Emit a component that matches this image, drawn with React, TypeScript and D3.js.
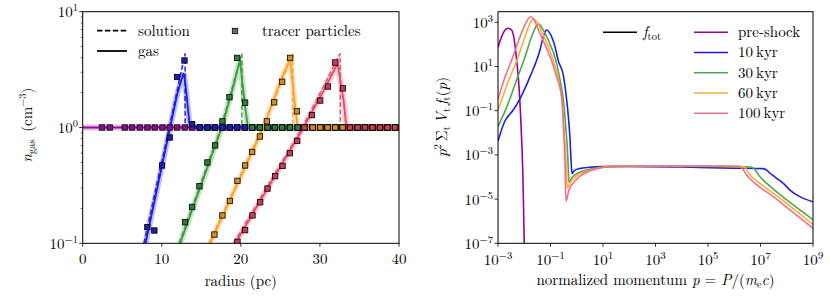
import { useEffect, useRef } from 'react';
import * as d3 from 'd3';

type Pt = [number, number];

// ---------- left panel: gas density vs radius ----------
const lineColors = ['#9c0a9c', '#1c1ce0', '#3c9c3c', '#ff9e22', '#e24a6a'];
const markerFills = ['#85108a', '#1e1eb4', '#2f7d3a', '#d48c26', '#c83e58'];

// dashed analytic solution, [radius pc, n_gas]
const solution10: Pt[] = [[7.75, 0.1], [10.95, 1], [12.95, 4.36], [12.95, 1], [40, 1]];
const solution30: Pt[] = [[12.2, 0.1], [17.5, 1], [20.13, 4.36], [20.13, 1], [40, 1]];
const solution60: Pt[] = [[16.0, 0.1], [22.75, 1], [26.58, 4.36], [26.58, 1], [40, 1]];
const solution100: Pt[] = [[19.1, 0.1], [27.8, 1], [32.57, 4.36], [32.57, 1], [40, 1]];

// solid gas profiles
const gasInit: Pt[] = [[0, 1], [40, 1]];
const gas10: Pt[] = [[7.95, 0.1], [11.05, 1], [12.0, 2.0], [12.5, 2.6], [12.75, 2.95], [12.95, 2.5], [13.16, 1.84], [13.5, 1.08], [13.75, 1], [40, 1]];
const gas30: Pt[] = [[12.32, 0.1], [17.59, 1], [19.0, 2.2], [19.6, 3.2], [19.9, 3.8], [20.15, 2.6], [20.54, 1.5], [20.9, 1], [40, 1]];
const gas60: Pt[] = [[16.1, 0.1], [22.86, 1], [25.0, 2.5], [26.24, 3.94], [26.5, 2.6], [26.87, 1.5], [27.2, 1], [40, 1]];
const gas100: Pt[] = [[19.3, 0.1], [27.92, 1], [30.5, 2.1], [32.23, 3.57], [32.6, 2.5], [32.99, 1.72], [33.35, 1], [40, 1]];

// tracer particles still sitting in the ambient medium (n = 1)
const ambientRadii = [2.44, 3.42, 5.32, 6.24, 7.22, 8.19, 9.11, 10.09, 11.01, 11.94, 12.91, 13.84, 14.81, 15.78, 16.71, 17.68, 18.61, 19.53, 20.51, 21.43, 22.41, 23.38, 24.3, 25.22, 26.2, 27.18, 28.1, 29.08, 30.04, 30.97, 31.94, 32.87, 33.8, 34.76, 35.7, 36.65, 37.6, 38.55, 39.5];
const ambientStart = [0, 14.5, 21, 27.8, 33.5];

// tracer particles inside the shell
const tracers10: Pt[] = [[8.18, 0.138], [9.06, 0.129], [10.04, 0.47], [11.01, 0.82], [11.94, 2.73], [12.87, 3.79], [13.84, 1.07]];
const tracers30: Pt[] = [[12.95, 0.152], [13.84, 0.206], [14.76, 0.311], [15.77, 0.499], [16.75, 0.7], [17.67, 1.13], [18.56, 1.83], [19.53, 3.99], [20.54, 1.64]];
const tracers60: Pt[] = [[16.66, 0.119], [17.67, 0.174], [18.61, 0.232], [19.57, 0.346], [20.54, 0.47], [21.43, 0.615], [22.41, 0.836], [23.29, 1.13], [24.22, 1.65], [25.23, 2.48], [26.24, 3.99], [27.09, 1.38]];
const tracers100: Pt[] = [[19.57, 0.103], [20.54, 0.13], [21.47, 0.174], [22.44, 0.226], [23.37, 0.297], [24.34, 0.38], [25.27, 0.466], [26.2, 0.6], [27.13, 0.766], [28.05, 1.0], [28.99, 1.28], [30.04, 1.71], [31.01, 2.26], [31.94, 3.64], [32.91, 2.18]];

const radiusTicks = [0, 10, 20, 30, 40];

// ---------- right panel: spectra, [log10 p, log10 p^2 sum V f] ----------
const spectrumLabels = ['pre-shock', '10\u2009kyr', '30\u2009kyr', '60\u2009kyr', '100\u2009kyr'];
const spectrumColors = ['#990099', '#2020e0', '#4ea64e', '#ffab38', '#f07088'];

const preShockCurve: Pt[] = [[-3, 1.87], [-2.86, 2.35], [-2.73, 2.65], [-2.61, 2.73], [-2.48, 2.65], [-2.38, 2.2], [-2.29, 1.29], [-2.2, 0.09], [-2.12, -1.72], [-2.05, -3.99], [-2.0, -7], [-1.97, -8]];
const tenKyrCurve: Pt[] = [[-3, -2.37], [-2.75, -1.5], [-2.42, -0.97], [-2.16, -0.45], [-1.78, 0.54], [-1.4, 1.75], [-1.25, 2.45], [-1.15, 2.65], [-1.0, 2.45], [-0.83, 1.9], [-0.7, 1.25], [-0.51, 0.6], [-0.42, -0.15], [-0.34, -1.0], [-0.26, -2.2], [-0.21, -3.4], [-0.18, -3.85], [-0.1, -3.72], [0.1, -3.62], [0.5, -3.56], [1, -3.53], [2, -3.52], [4, -3.55], [6, -3.6], [7.1, -3.62], [7.25, -3.7], [7.36, -3.83], [7.5, -3.95], [7.62, -4.06], [7.87, -4.29], [8.12, -4.59], [8.5, -4.89], [9, -5.12]];
const thirtyKyrCurve: Pt[] = [[-3, -1.72], [-2.61, -0.67], [-2.29, 0.39], [-1.97, 1.44], [-1.72, 2.35], [-1.53, 2.85], [-1.44, 2.92], [-1.3, 2.7], [-1.05, 2.1], [-0.8, 1.3], [-0.64, 0.4], [-0.51, -0.52], [-0.42, -1.72], [-0.34, -3.08], [-0.3, -4.25], [-0.2, -4.05], [0, -3.85], [0.5, -3.65], [1, -3.55], [1.5, -3.52], [3, -3.51], [5, -3.52], [6.6, -3.55], [6.73, -3.6], [6.98, -3.99], [7.24, -4.29], [8, -5.04], [9, -5.93]];
const sixtyKyrCurve: Pt[] = [[-3, -0.97], [-2.61, 0.31], [-2.23, 1.44], [-1.97, 2.35], [-1.78, 2.95], [-1.65, 3.15], [-1.5, 3.0], [-1.4, 2.75], [-1.12, 2.0], [-0.87, 1.2], [-0.7, 0.4], [-0.55, -0.67], [-0.47, -2.02], [-0.4, -3.53], [-0.36, -4.5], [-0.25, -4.25], [0, -3.95], [0.5, -3.7], [1, -3.56], [1.5, -3.52], [3, -3.5], [5, -3.51], [6.3, -3.53], [6.41, -3.58], [6.6, -3.91], [6.98, -4.29], [7.74, -4.96], [9, -6.15]];
const hundredKyrCurve: Pt[] = [[-3, -0.48], [-2.73, 0.54], [-2.48, 1.29], [-2.16, 2.35], [-1.91, 3.03], [-1.76, 3.25], [-1.62, 3.1], [-1.46, 2.65], [-1.18, 1.9], [-0.92, 1.14], [-0.76, 0.5], [-0.57, -0.37], [-0.51, -1.72], [-0.45, -3.23], [-0.41, -5.1], [-0.3, -4.6], [0, -4.1], [0.5, -3.72], [1, -3.57], [1.5, -3.52], [3, -3.5], [5, -3.5], [6.15, -3.52], [6.28, -3.58], [6.47, -3.91], [6.79, -4.29], [7.49, -4.89], [8.12, -5.49], [9, -6.32]];

const momentumTickExps = [-3, -1, 1, 3, 5, 7, 9];
const spectrumTickExps = [-7, -5, -3, -1, 1, 3];

const FONT = '"Latin Modern Roman"';
const FS = 15;
const SUP = 10.5;

export default function App() {
  const svgRef = useRef<SVGSVGElement>(null);

  useEffect(() => {
    if (!svgRef.current) return;
    const svg = d3.select(svgRef.current);
    svg.selectAll('*').remove();

    const defs = svg.append('defs');
    const root = svg.append('g').attr('fill', '#000');

    // 10^n label
    const powLabel = (g: any, x: number, y: number, exp: number, anchor: string) => {
      const t = g.append('text').attr('x', x).attr('y', y).attr('text-anchor', anchor).attr('font-size', FS);
      t.append('tspan').text('10');
      t.append('tspan').attr('dy', -6).attr('font-size', SUP).text(exp < 0 ? `\u2212${-exp}` : `${exp}`);
    };

    // ===== left panel =====
    const xL = d3.scaleLinear().domain([0, 40]).range([82.7, 399]);
    const yL = d3.scaleLog().domain([0.1, 10]).range([243.3, 11.7]);

    defs.append('clipPath').attr('id', 'clipL').append('rect')
      .attr('x', 82.7).attr('y', 11.7).attr('width', 399 - 82.7).attr('height', 243.3 - 11.7);

    const left = root.append('g');
    const plotL = left.append('g').attr('clip-path', 'url(#clipL)');
    const lineL = d3.line<Pt>().x((d) => xL(d[0])).y((d) => yL(d[1]));

    const gasSets = [gasInit, gas10, gas30, gas60, gas100];
    const solSets = [null, solution10, solution30, solution60, solution100];

    gasSets.forEach((gas, i) => {
      plotL.append('path').datum(gas).attr('d', lineL)
        .attr('fill', 'none').attr('stroke', lineColors[i]).attr('stroke-opacity', 0.28).attr('stroke-width', 6);
      plotL.append('path').datum(gas).attr('d', lineL)
        .attr('fill', 'none').attr('stroke', lineColors[i]).attr('stroke-width', 1.8);
      const sol = solSets[i];
      if (sol) {
        plotL.append('path').datum(sol).attr('d', lineL)
          .attr('fill', 'none').attr('stroke', lineColors[i]).attr('stroke-width', 1.6)
          .attr('stroke-dasharray', '5,2.4').attr('stroke-opacity', 0.9);
      }
    });

    const shellSets: Pt[][] = [[], tracers10, tracers30, tracers60, tracers100];
    const sq = 5.4;
    shellSets.forEach((shell, i) => {
      const pts: Pt[] = ambientRadii.filter((r) => r > ambientStart[i]).map((r) => [r, 1] as Pt).concat(shell);
      plotL.selectAll(null).data(pts).enter().append('rect')
        .attr('x', (d) => xL(d[0]) - sq / 2).attr('y', (d) => yL(d[1]) - sq / 2)
        .attr('width', sq).attr('height', sq)
        .attr('fill', markerFills[i]).attr('stroke', '#000').attr('stroke-width', 0.8);
    });

    // frame
    left.append('rect').attr('x', 82.7).attr('y', 11.7).attr('width', 399 - 82.7).attr('height', 243.3 - 11.7)
      .attr('fill', 'none').attr('stroke', '#000').attr('stroke-width', 1);

    // x ticks
    radiusTicks.forEach((t) => {
      left.append('line').attr('x1', xL(t)).attr('x2', xL(t)).attr('y1', 243.3).attr('y2', 246.8)
        .attr('stroke', '#000').attr('stroke-width', 0.8);
      left.append('text').attr('x', xL(t)).attr('y', 263.5).attr('text-anchor', 'middle')
        .attr('font-size', FS).text(t);
    });
    // y ticks
    [-1, 0, 1].forEach((e) => {
      const y = yL(10 ** e);
      left.append('line').attr('x1', 79.2).attr('x2', 82.7).attr('y1', y).attr('y2', y)
        .attr('stroke', '#000').attr('stroke-width', 0.8);
      powLabel(left, 78, y + 5.5, e, 'end');
    });
    [0.1, 1].forEach((base) => {
      d3.range(2, 10).forEach((m) => {
        const y = yL(base * m);
        left.append('line').attr('x1', 80.7).attr('x2', 82.7).attr('y1', y).attr('y2', y)
          .attr('stroke', '#000').attr('stroke-width', 0.6);
      });
    });

    // axis labels
    left.append('text').attr('x', xL(20)).attr('y', 285.5).attr('text-anchor', 'middle')
      .attr('font-size', FS).text('radius (pc)');
    const yLab = left.append('text').attr('transform', 'translate(32,125) rotate(-90)')
      .attr('text-anchor', 'middle').attr('font-size', FS);
    yLab.append('tspan').attr('font-style', 'italic').text('n');
    yLab.append('tspan').attr('font-size', SUP).attr('dy', 3).text('gas');
    yLab.append('tspan').attr('dy', -3).text('\u2002(cm');
    yLab.append('tspan').attr('font-size', SUP).attr('dy', -6).text('\u22123');
    yLab.append('tspan').attr('dy', 6).text(')');

    // legend
    left.append('line').attr('x1', 97).attr('x2', 127).attr('y1', 30.7).attr('y2', 30.7)
      .attr('stroke', '#000').attr('stroke-width', 1.8).attr('stroke-dasharray', '5.5,2.4');
    left.append('text').attr('x', 138).attr('y', 35.5).attr('font-size', FS).text('solution');
    left.append('line').attr('x1', 97).attr('x2', 127).attr('y1', 51).attr('y2', 51)
      .attr('stroke', '#000').attr('stroke-width', 1.8);
    left.append('text').attr('x', 138).attr('y', 55.5).attr('font-size', FS).text('gas');
    left.append('rect').attr('x', 235 - sq / 2).attr('y', 31 - sq / 2).attr('width', sq).attr('height', sq)
      .attr('fill', '#6a6a6a').attr('stroke', '#000').attr('stroke-width', 0.8);
    left.append('text').attr('x', 262).attr('y', 35.5).attr('font-size', FS).text('tracer particles');

    // ===== right panel =====
    const xR = d3.scaleLog().domain([1e-3, 1e9]).range([498, 813]);
    const yR = d3.scaleLog().domain([1e-7, 10 ** 3.48]).range([243.3, 11.7]);

    defs.append('clipPath').attr('id', 'clipR').append('rect')
      .attr('x', 498).attr('y', 11.7).attr('width', 813 - 498).attr('height', 243.3 - 11.7);

    const right = root.append('g');
    const plotR = right.append('g').attr('clip-path', 'url(#clipR)');
    const lineR = d3.line<Pt>().x((d) => xR(10 ** d[0])).y((d) => yR(10 ** d[1])).curve(d3.curveMonotoneX);

    const curves = [preShockCurve, tenKyrCurve, thirtyKyrCurve, sixtyKyrCurve, hundredKyrCurve];
    curves.forEach((c, i) => {
      plotR.append('path').datum(c).attr('d', lineR)
        .attr('fill', 'none').attr('stroke', spectrumColors[i]).attr('stroke-width', 1.6)
        .attr('stroke-linejoin', 'round');
    });

    right.append('rect').attr('x', 498).attr('y', 11.7).attr('width', 813 - 498).attr('height', 243.3 - 11.7)
      .attr('fill', 'none').attr('stroke', '#000').attr('stroke-width', 1);

    momentumTickExps.forEach((e) => {
      const x = xR(10 ** e);
      right.append('line').attr('x1', x).attr('x2', x).attr('y1', 243.3).attr('y2', 246.8)
        .attr('stroke', '#000').attr('stroke-width', 0.8);
      powLabel(right, x, 265, e, 'middle');
    });
    spectrumTickExps.forEach((e) => {
      const y = yR(10 ** e);
      right.append('line').attr('x1', 494.5).attr('x2', 498).attr('y1', y).attr('y2', y)
        .attr('stroke', '#000').attr('stroke-width', 0.8);
      powLabel(right, 493, y + 5.5, e, 'end');
    });

    const xLab = right.append('text').attr('x', 655.5).attr('y', 284.5).attr('text-anchor', 'middle')
      .attr('font-size', FS);
    xLab.append('tspan').text('normalized momentum ');
    xLab.append('tspan').attr('font-style', 'italic').text('p');
    xLab.append('tspan').text(' = ');
    xLab.append('tspan').attr('font-style', 'italic').text('P');
    xLab.append('tspan').text('/(');
    xLab.append('tspan').attr('font-style', 'italic').text('m');
    xLab.append('tspan').attr('font-size', SUP).attr('dy', 3).text('e');
    xLab.append('tspan').attr('font-style', 'italic').attr('dy', -3).text('c');
    xLab.append('tspan').text(')');

    const yLabR = right.append('text').attr('transform', 'translate(447,117) rotate(-90)')
      .attr('text-anchor', 'middle').attr('font-size', FS);
    yLabR.append('tspan').attr('font-style', 'italic').text('p');
    yLabR.append('tspan').attr('font-size', SUP).attr('dy', -6).text('2');
    yLabR.append('tspan').attr('dy', 6).text('\u2009\u03a3');
    yLabR.append('tspan').attr('font-size', SUP).attr('dy', 3).text('t');
    yLabR.append('tspan').attr('font-style', 'italic').attr('dy', -3).text('\u2009V');
    yLabR.append('tspan').attr('font-size', SUP).attr('dy', 3).text('t');
    yLabR.append('tspan').attr('font-style', 'italic').attr('dy', -3).text('\u2009f');
    yLabR.append('tspan').attr('font-size', SUP).attr('dy', 3).text('t');
    yLabR.append('tspan').attr('dy', -3).text('(');
    yLabR.append('tspan').attr('font-style', 'italic').text('p');
    yLabR.append('tspan').text(')');

    // legend
    right.append('line').attr('x1', 603).attr('x2', 637).attr('y1', 32.3).attr('y2', 32.3)
      .attr('stroke', '#000').attr('stroke-width', 1.6);
    const ft = right.append('text').attr('x', 643).attr('y', 36.8).attr('font-size', FS);
    ft.append('tspan').attr('font-style', 'italic').text('f');
    ft.append('tspan').attr('font-size', SUP).attr('dy', 3).text('tot');

    spectrumLabels.forEach((lab, i) => {
      const y = 32.3 + i * 20.25;
      right.append('line').attr('x1', 694).attr('x2', 728).attr('y1', y).attr('y2', y)
        .attr('stroke', spectrumColors[i]).attr('stroke-width', 1.6);
      right.append('text').attr('x', 738).attr('y', y + 4.8).attr('font-size', FS).text(lab);
    });

    // same font on every label
    svg.selectAll('text').style('font-family', FONT);
  }, []);

  return (
    <svg
      ref={svgRef}
      width={830}
      height={297}
      style={{ position: 'absolute', left: 0, top: 0, background: '#fff' }}
    />
  );
}
